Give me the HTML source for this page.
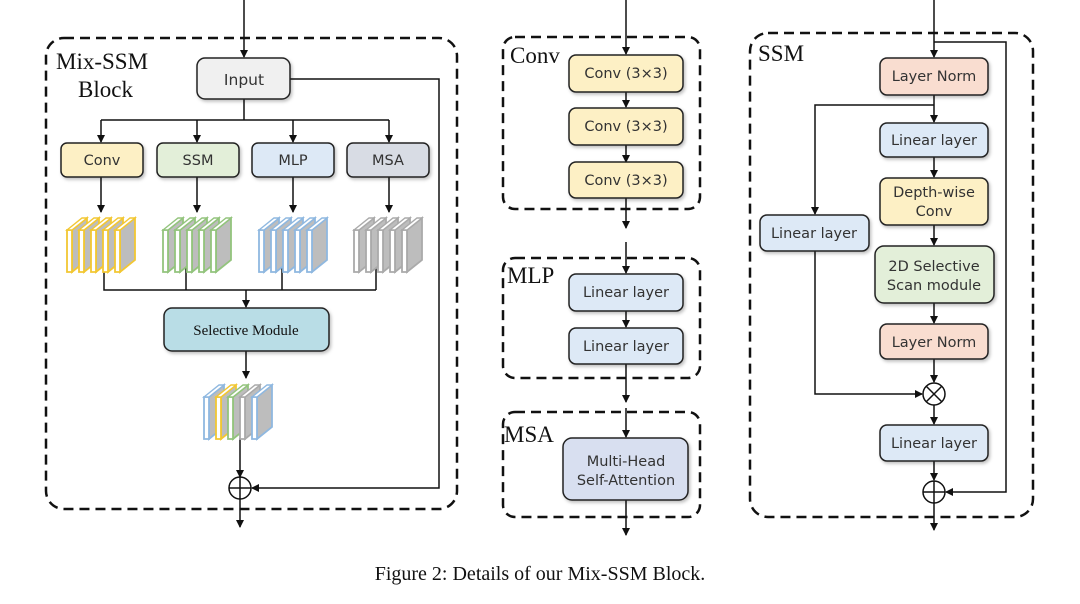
<!DOCTYPE html>
<html><head><meta charset="utf-8"><style>
body{margin:0;background:#fff}
svg{display:block}
.sans{font-family:"DejaVu Sans","Liberation Sans",sans-serif;font-size:14.5px;fill:#333}
.serif{font-family:"Liberation Serif",serif;fill:#111}
</style></head><body>
<svg width="1080" height="604" viewBox="0 0 1080 604" xmlns="http://www.w3.org/2000/svg">
<defs>
<marker id="a" markerWidth="8" markerHeight="8" refX="7" refY="4" orient="auto" markerUnits="userSpaceOnUse"><path d="M0,0 L8,4 L0,8 z" fill="#111"/></marker>
<g id="slab"><path d="M5,12 L20,0 L20,42 L5,54 z" fill="#bdbdbd" stroke="currentColor" stroke-width="1.8"/><path d="M0,12 L5,12 L5,54 L0,54 z" fill="#fff" stroke="currentColor" stroke-width="1.8"/><path d="M0,12 L15,0 L20,0 L5,12 z" fill="#fff" stroke="currentColor" stroke-width="1.4"/></g>
<filter id="sh" x="-10%" y="-10%" width="130%" height="140%"><feDropShadow dx="1.5" dy="2" stdDeviation="1.5" flood-color="#000" flood-opacity="0.25"/></filter>
</defs>
<g fill="none" stroke="#111" stroke-width="2.5" stroke-dasharray="10,6">
<rect x="46" y="38" width="411" height="471" rx="18"/>
<rect x="503" y="37" width="197" height="172" rx="12"/>
<rect x="503" y="258" width="197" height="120" rx="12"/>
<rect x="503" y="412" width="197" height="105" rx="12"/>
<rect x="750" y="33" width="283" height="484" rx="18"/>
</g>
<text class="serif" x="56" y="69" font-size="23">Mix-SSM</text>
<text class="serif" x="78" y="97" font-size="23">Block</text>
<text class="serif" x="510" y="63" font-size="23">Conv</text>
<text class="serif" x="507" y="283" font-size="23">MLP</text>
<text class="serif" x="504" y="442" font-size="23">MSA</text>
<text class="serif" x="758" y="61" font-size="23">SSM</text>

<g stroke="#111" stroke-width="1.5" fill="none">
<line x1="244" y1="0" x2="244" y2="57" marker-end="url(#a)"/>
<polyline points="290,79 439,79 439,488 252,488" marker-end="url(#a)"/>
<line x1="244" y1="99" x2="244" y2="120"/>
<line x1="101" y1="120" x2="389" y2="120"/>
<line x1="101" y1="120" x2="101" y2="142" marker-end="url(#a)"/>
<line x1="197" y1="120" x2="197" y2="142" marker-end="url(#a)"/>
<line x1="293" y1="120" x2="293" y2="142" marker-end="url(#a)"/>
<line x1="389" y1="120" x2="389" y2="142" marker-end="url(#a)"/>
<line x1="101" y1="177" x2="101" y2="212" marker-end="url(#a)"/>
<line x1="197" y1="177" x2="197" y2="212" marker-end="url(#a)"/>
<line x1="293" y1="177" x2="293" y2="212" marker-end="url(#a)"/>
<line x1="389" y1="177" x2="389" y2="212" marker-end="url(#a)"/>
<polyline points="104,268 104,290 376,290"/>
<line x1="186" y1="268" x2="186" y2="290"/>
<line x1="282" y1="268" x2="282" y2="290"/>
<line x1="376" y1="268" x2="376" y2="290"/>
<line x1="246" y1="290" x2="246" y2="307" marker-end="url(#a)"/>
<line x1="246" y1="351" x2="246" y2="378" marker-end="url(#a)"/>
<line x1="240" y1="438" x2="240" y2="477" marker-end="url(#a)"/>
<line x1="240" y1="498" x2="240" y2="527" marker-end="url(#a)"/>
<line x1="626" y1="0" x2="626" y2="54" marker-end="url(#a)"/>
<line x1="626" y1="92" x2="626" y2="107" marker-end="url(#a)"/>
<line x1="626" y1="145" x2="626" y2="162" marker-end="url(#a)"/>
<line x1="626" y1="198" x2="626" y2="228" marker-end="url(#a)"/>
<line x1="626" y1="242" x2="626" y2="273" marker-end="url(#a)"/>
<line x1="626" y1="311" x2="626" y2="327" marker-end="url(#a)"/>
<line x1="626" y1="364" x2="626" y2="402" marker-end="url(#a)"/>
<line x1="626" y1="408" x2="626" y2="437" marker-end="url(#a)"/>
<line x1="626" y1="500" x2="626" y2="535" marker-end="url(#a)"/>
<line x1="934" y1="0" x2="934" y2="57" marker-end="url(#a)"/>
<polyline points="934,42 1006,42 1006,492 946,492" marker-end="url(#a)"/>
<line x1="934" y1="95" x2="934" y2="122" marker-end="url(#a)"/>
<polyline points="934,105 815,105 815,214" marker-end="url(#a)"/>
<line x1="934" y1="157" x2="934" y2="177" marker-end="url(#a)"/>
<line x1="934" y1="225" x2="934" y2="245" marker-end="url(#a)"/>
<line x1="934" y1="303" x2="934" y2="323" marker-end="url(#a)"/>
<line x1="934" y1="359" x2="934" y2="382" marker-end="url(#a)"/>
<polyline points="815,251 815,394 922,394" marker-end="url(#a)"/>
<line x1="934" y1="405" x2="934" y2="424" marker-end="url(#a)"/>
<line x1="934" y1="461" x2="934" y2="480" marker-end="url(#a)"/>
<line x1="934" y1="503" x2="934" y2="530" marker-end="url(#a)"/>
</g>

<g stroke="#222" stroke-width="1.5" filter="url(#sh)">
<rect x="197" y="58" width="93" height="41" rx="8" fill="#f0f0f0"/>
<rect x="61" y="143" width="82" height="34" rx="6" fill="#fdf0c5"/>
<rect x="157" y="143" width="82" height="34" rx="6" fill="#e3efd9"/>
<rect x="252" y="143" width="82" height="34" rx="6" fill="#dde9f6"/>
<rect x="347" y="143" width="82" height="34" rx="6" fill="#d8dce4"/>
<rect x="164" y="308" width="165" height="43" rx="8" fill="#b9dde6"/>
<rect x="569" y="55" width="114" height="37" rx="7" fill="#fdf0c5"/>
<rect x="569" y="108" width="114" height="37" rx="7" fill="#fdf0c5"/>
<rect x="569" y="162" width="114" height="36" rx="7" fill="#fdf0c5"/>
<rect x="569" y="274" width="114" height="37" rx="7" fill="#dde9f6"/>
<rect x="569" y="328" width="114" height="36" rx="7" fill="#dde9f6"/>
<rect x="563" y="438" width="125" height="62" rx="9" fill="#d8dff0"/>
<rect x="880" y="58" width="108" height="37" rx="7" fill="#f9ddd0"/>
<rect x="880" y="123" width="108" height="34" rx="7" fill="#dde9f6"/>
<rect x="880" y="178" width="108" height="47" rx="7" fill="#fdf0c5"/>
<rect x="875" y="246" width="119" height="57" rx="9" fill="#e3efd9"/>
<rect x="880" y="324" width="108" height="35" rx="7" fill="#f9ddd0"/>
<rect x="760" y="215" width="109" height="36" rx="7" fill="#dde9f6"/>
<rect x="880" y="425" width="108" height="36" rx="7" fill="#dde9f6"/>
</g>

<g stroke="#111" stroke-width="1.5" fill="#fff">
<circle cx="240" cy="488" r="11"/><path d="M229,488 H251 M240,477 V499"/>
<circle cx="934" cy="394" r="11"/><path d="M926,386 L942,402 M942,386 L926,402"/>
<circle cx="934" cy="492" r="11"/><path d="M923,492 H945 M934,481 V503"/>
</g>

<g class="sans" text-anchor="middle">
<text x="244" y="85" font-size="15.5">Input</text>
<text x="102" y="165">Conv</text>
<text x="198" y="165">SSM</text>
<text x="293" y="165">MLP</text>
<text x="388" y="165">MSA</text>
<text x="626" y="78">Conv (3×3)</text>
<text x="626" y="131">Conv (3×3)</text>
<text x="626" y="185">Conv (3×3)</text>
<text x="626" y="297">Linear layer</text>
<text x="626" y="351">Linear layer</text>
<text x="626" y="466">Multi-Head</text>
<text x="626" y="485">Self-Attention</text>
<text x="934" y="81">Layer Norm</text>
<text x="934" y="145">Linear layer</text>
<text x="934" y="197">Depth-wise</text>
<text x="934" y="216">Conv</text>
<text x="934" y="271">2D Selective</text>
<text x="934" y="290">Scan module</text>
<text x="934" y="347">Layer Norm</text>
<text x="814" y="238">Linear layer</text>
<text x="934" y="448">Linear layer</text>
</g>
<text class="serif" x="246" y="335" font-size="15" text-anchor="middle">Selective Module</text>

<g color="#f2c733">
<use href="#slab" x="67" y="218"/><use href="#slab" x="79" y="218"/><use href="#slab" x="91" y="218"/><use href="#slab" x="103" y="218"/><use href="#slab" x="115" y="218"/>
</g>
<g color="#93c47d">
<use href="#slab" x="163" y="218"/><use href="#slab" x="175" y="218"/><use href="#slab" x="187" y="218"/><use href="#slab" x="199" y="218"/><use href="#slab" x="211" y="218"/>
</g>
<g color="#8fb8e0">
<use href="#slab" x="259" y="218"/><use href="#slab" x="271" y="218"/><use href="#slab" x="283" y="218"/><use href="#slab" x="295" y="218"/><use href="#slab" x="307" y="218"/>
</g>
<g color="#aaaaaa">
<use href="#slab" x="354" y="218"/><use href="#slab" x="366" y="218"/><use href="#slab" x="378" y="218"/><use href="#slab" x="390" y="218"/><use href="#slab" x="402" y="218"/>
</g>
<use href="#slab" x="204" y="385" color="#8fb8e0"/>
<use href="#slab" x="216" y="385" color="#f2c733"/>
<use href="#slab" x="228" y="385" color="#93c47d"/>
<use href="#slab" x="240" y="385" color="#aaaaaa"/>
<use href="#slab" x="252" y="385" color="#8fb8e0"/>

<text class="serif" x="540" y="580" font-size="20" text-anchor="middle">Figure 2: Details of our Mix-SSM Block.</text>
</svg>
</body></html>
